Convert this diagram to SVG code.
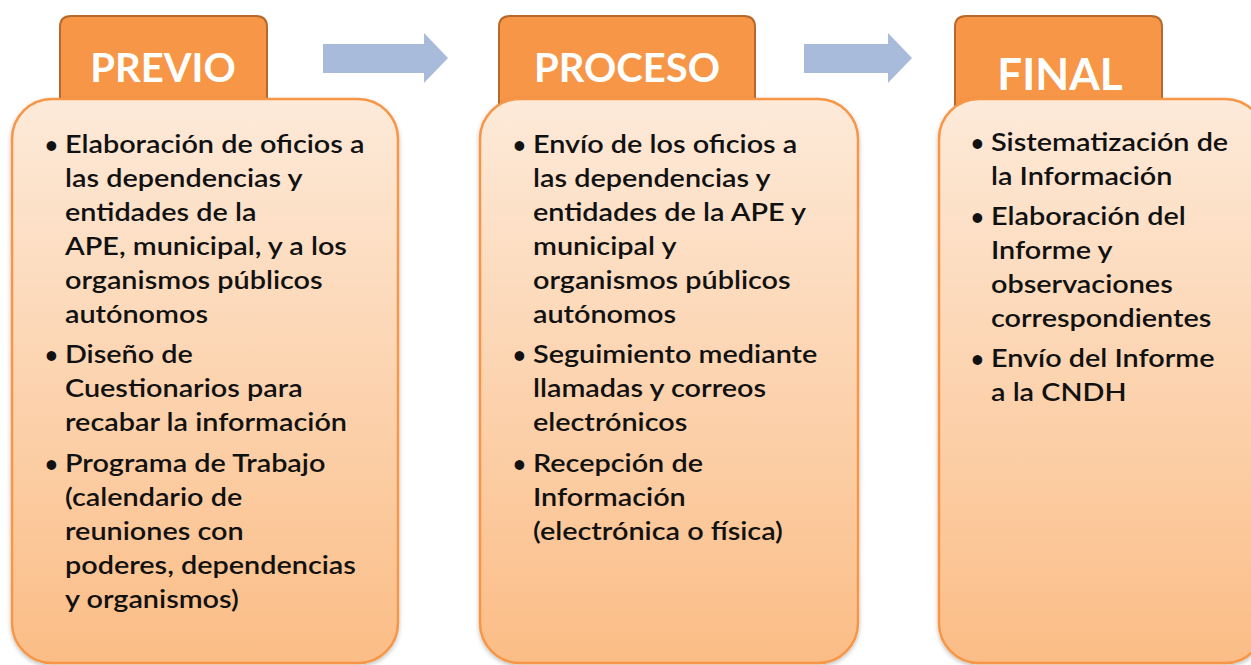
<svg xmlns="http://www.w3.org/2000/svg" width="1251" height="665" viewBox="0 0 1251 665">
<defs>
<linearGradient id="bodyGrad" x1="0" y1="0" x2="0" y2="1">
<stop offset="0" stop-color="#FDEAD9"/>
<stop offset="1" stop-color="#FBBD86"/>
</linearGradient>
<filter id="shadow" x="-5%" y="-5%" width="110%" height="110%">
<feDropShadow dx="0" dy="2" stdDeviation="2" flood-color="#000" flood-opacity="0.25"/>
</filter>
</defs>
<style>
.tab{fill:#F79646;stroke:#B7692C;stroke-width:2}
.body{fill:url(#bodyGrad);stroke:#F79646;stroke-width:2.5}
.title{font-family:Lato,"Open Sans",sans-serif;font-weight:bold;fill:#FFFFFF;text-anchor:middle}
.txt{font-family:Lato,"Open Sans",sans-serif;font-size:24px;font-weight:600;fill:#111111}
.bul{font-family:Lato,"Open Sans",sans-serif;font-size:22px;font-weight:bold;fill:#111111}
.arrow{fill:#A8BBDB}
</style>
<rect width="1251" height="665" fill="#FFFFFF"/>
<g id="connectors">
<polygon class="arrow" points="323,44 424,44 424,33 448,58 424,83 424,73 323,73"/>
<polygon class="arrow" points="804,44 888,44 888,33 912,58 888,83 888,73 804,73"/>
</g>
<g id="previo">
<path class="tab" d="M60,120 V27 Q60,16 71,16 H256 Q267,16 267,27 V120 Z"/>
<rect class="body" x="12" y="99" width="386" height="564" rx="40" ry="40" filter="url(#shadow)"/>
<text class="title" x="163" y="82" font-size="40">PREVIO</text>
<text class="bul"><tspan x="45" y="153">•</tspan><tspan x="45" y="363">•</tspan><tspan x="45" y="472">•</tspan></text>
<text class="txt" transform="translate(65 0) scale(1.2 1) translate(-65 0)">
<tspan x="65" y="153">Elaboración de oficios a</tspan>
<tspan x="65" y="187">las dependencias y</tspan>
<tspan x="65" y="221">entidades de la</tspan>
<tspan x="65" y="255">APE, municipal, y a los</tspan>
<tspan x="65" y="289">organismos públicos</tspan>
<tspan x="65" y="323">autónomos</tspan>
<tspan x="65" y="363">Diseño de</tspan>
<tspan x="65" y="397">Cuestionarios para</tspan>
<tspan x="65" y="431">recabar la información</tspan>
<tspan x="65" y="472">Programa de Trabajo</tspan>
<tspan x="65" y="506">(calendario de</tspan>
<tspan x="65" y="540">reuniones con</tspan>
<tspan x="65" y="574">poderes, dependencias</tspan>
<tspan x="65" y="608">y organismos)</tspan>
</text>
</g>
<g id="proceso">
<path class="tab" d="M499,120 V27 Q499,16 510,16 H744 Q755,16 755,27 V120 Z"/>
<rect class="body" x="480" y="99" width="378" height="564" rx="40" ry="40" filter="url(#shadow)"/>
<text class="title" x="627" y="82" font-size="40">PROCESO</text>
<text class="bul"><tspan x="513" y="153">•</tspan><tspan x="513" y="363">•</tspan><tspan x="513" y="472">•</tspan></text>
<text class="txt" transform="translate(533 0) scale(1.2 1) translate(-533 0)">
<tspan x="533" y="153">Envío de los oficios a</tspan>
<tspan x="533" y="187">las dependencias y</tspan>
<tspan x="533" y="221">entidades de la APE y</tspan>
<tspan x="533" y="255">municipal y</tspan>
<tspan x="533" y="289">organismos públicos</tspan>
<tspan x="533" y="323">autónomos</tspan>
<tspan x="533" y="363">Seguimiento mediante</tspan>
<tspan x="533" y="397">llamadas y correos</tspan>
<tspan x="533" y="431">electrónicos</tspan>
<tspan x="533" y="472">Recepción de</tspan>
<tspan x="533" y="506">Información</tspan>
<tspan x="533" y="540">(electrónica o física)</tspan>
</text>
</g>
<g id="final">
<path class="tab" d="M955,120 V27 Q955,16 966,16 H1151 Q1162,16 1162,27 V120 Z"/>
<rect class="body" x="939" y="99" width="326" height="564" rx="40" ry="40" filter="url(#shadow)"/>
<text class="title" x="1060" y="90" font-size="44">FINAL</text>
<text class="bul"><tspan x="971" y="151">•</tspan><tspan x="971" y="225">•</tspan><tspan x="971" y="367">•</tspan></text>
<text class="txt" transform="translate(991 0) scale(1.2 1) translate(-991 0)">
<tspan x="991" y="151">Sistematización de</tspan>
<tspan x="991" y="185">la Información</tspan>
<tspan x="991" y="225">Elaboración del</tspan>
<tspan x="991" y="259">Informe y</tspan>
<tspan x="991" y="293">observaciones</tspan>
<tspan x="991" y="327">correspondientes</tspan>
<tspan x="991" y="367">Envío del Informe</tspan>
<tspan x="991" y="401">a la CNDH</tspan>
</text>
</g>
</svg>
